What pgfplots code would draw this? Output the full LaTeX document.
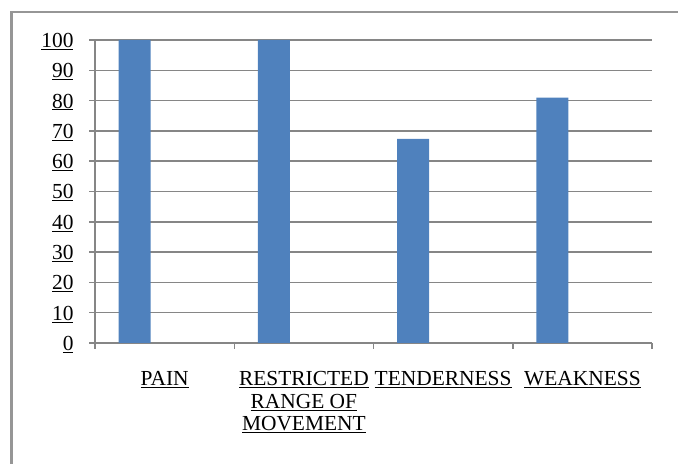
\documentclass[border=0pt]{standalone}
\usepackage{pgfplots}
\pgfplotsset{compat=1.18}
\usepackage{fontspec}
\setmainfont{Liberation Serif}
\definecolor{barblue}{RGB}{79,129,189}
\definecolor{gridgray}{RGB}{134,134,134}
\definecolor{framegray}{RGB}{150,150,150}
\begin{document}
\begin{tikzpicture}[x=1bp,y=1bp]
\useasboundingbox (0,0) rectangle (678,464);
% chart frame (top and left edges)
\draw[framegray, line width=2.5bp] (11.5,0) -- (11.5,452) -- (678,452);
\begin{axis}[
  at={(95bp,121bp)}, anchor=south west,
  scale only axis, width=557bp, height=303bp,
  xmin=-0.5, xmax=3.5, ymin=0, ymax=100,
  enlarge x limits=false,
  axis x line*=bottom, axis y line*=left,
  axis line style={-, draw=gridgray, line width=1.5bp},
  ytick={0,10,...,100},
  ymajorgrids,
  grid style={draw=gridgray, line width=1.5bp},
  tick align=outside,
  major tick length=6bp,
  minor tick length=6bp,
  y tick style={draw=gridgray, line width=1.5bp},
  xtick={0,1,2,3},
  major x tick style={draw=none},
  minor xtick={-0.5,0.5,1.5,2.5,3.5},
  minor x tick style={draw=gridgray, line width=1.5bp},
  xticklabels={\underline{PAIN},
    {\underline{RESTRICTED}\\\underline{RANGE OF}\\\underline{MOVEMENT}},
    \underline{TENDERNESS}, \underline{WEAKNESS}},
  xticklabel style={anchor=north, align=center, yshift=-19bp,
    font=\fontsize{21.5}{22.5}\selectfont},
  yticklabel style={anchor=base east, xshift=-12bp, yshift=-7.5bp,
    font=\fontsize{21.5}{22.5}\selectfont},
  yticklabel={\underline{\pgfmathprintnumber{\tick}}},
  /pgf/number format/assume math mode=true,
  ybar, bar width=32bp, bar shift=-30bp,
]
\addplot[fill=barblue, draw=none] coordinates {(0,100) (1,100) (2,67.4) (3,81)};
\end{axis}
\end{tikzpicture}
\end{document}
